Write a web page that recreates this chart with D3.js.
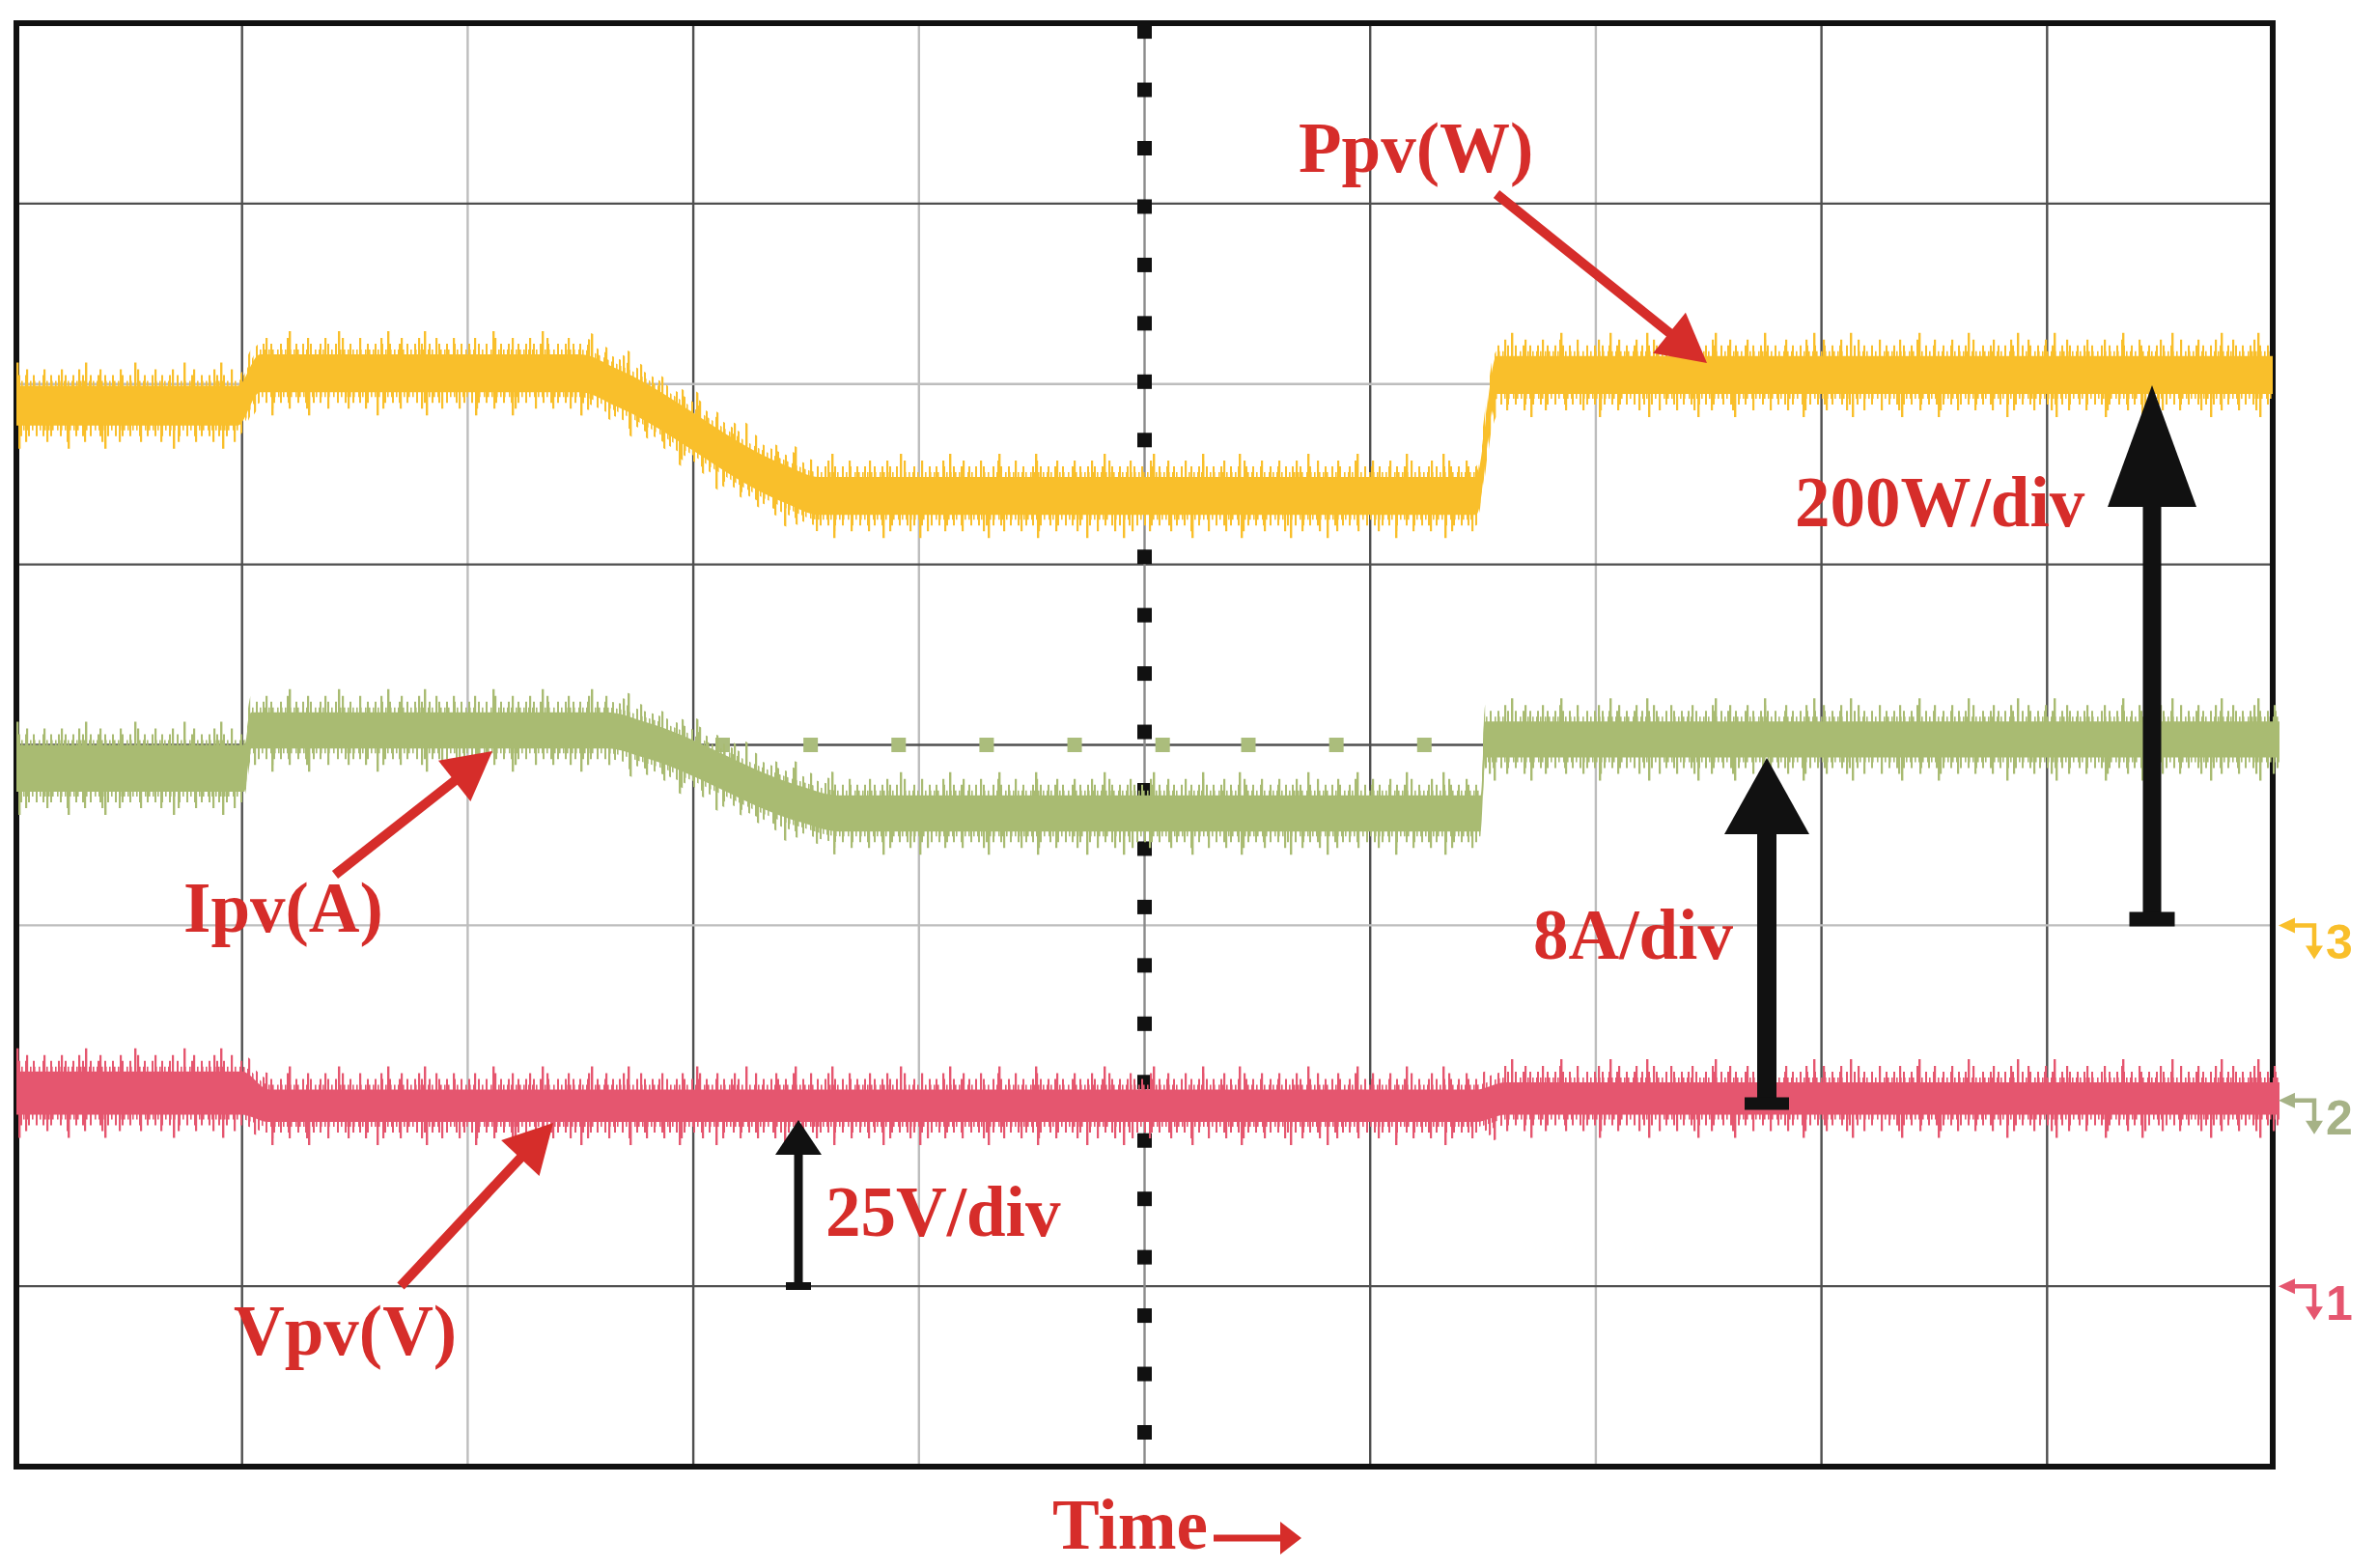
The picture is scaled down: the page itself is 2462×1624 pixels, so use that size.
<!DOCTYPE html>
<html>
<head>
<meta charset="utf-8">
<script src="https://cdn.jsdelivr.net/npm/d3@7"></script>
<style>
  html, body { margin: 0; padding: 0; background: #fff; }
  svg { display: block; }
</style>
</head>
<body>
<svg id="scope" width="2462" height="1624"></svg>
<script>
// Oscilloscope capture: Ppv / Ipv / Vpv vs time.
// Time is in screen divisions (10 across), level in divisions (8 up, 0 = bottom).

// Ppv (W), channel 3
const PPV_T = [0, 0.98, 1.08, 2.50, 2.66, 3.40, 3.56, 6.47, 6.56, 10];
const PPV_Y = [5.88, 5.88, 6.06, 6.06, 5.98, 5.45, 5.38, 5.38, 6.05, 6.05];
const PPV_N = [0.11, 0.11, 0.105, 0.105, 0.105, 0.105, 0.105, 0.105, 0.105, 0.105]; // noise envelope

// Ipv (A), channel 2
const IPV_T = [0, 1.01, 1.04, 2.62, 2.78, 3.48, 3.64, 6.49, 6.51, 10.03];
const IPV_Y = [3.87, 3.87, 4.08, 4.08, 4.03, 3.67, 3.62, 3.62, 4.03, 4.03];
const IPV_N = [0.13, 0.13, 0.10, 0.10, 0.10, 0.10, 0.10, 0.10, 0.10, 0.10];

// Vpv (V), channel 1
const VPV_T = [0, 1.00, 1.12, 6.47, 6.60, 10.03];
const VPV_Y = [2.07, 2.07, 2.00, 2.00, 2.04, 2.04];
const VPV_N = [0.12, 0.12, 0.09, 0.09, 0.09, 0.09];

// Ipv reference cursor (dotted) at 4 div
const REF_LEVEL = 4;
const REF_DOTS_T = [3.13, 3.52, 3.91, 4.30, 4.69, 5.08, 5.46, 5.85, 6.24];

const TRACE_LABELS = ['Ppv(W)', 'Ipv(A)', 'Vpv(V)'];
const SCALE_LABELS = ['200W/div', '8A/div', '25V/div'];
const CHANNELS = ['3', '2', '1'];
const CHANNEL_LEVELS = [3, 2.03, 1];
const TIME_LABEL = 'Time';

const W = 2462, H = 1624;
const RED = '#d62d2a';
const INK = '#111';
const COLORS = { ppv: '#f9bf2b', ipv: '#a9bb72', vpv: '#e5566f' };

const svg = d3.select('#scope');
const x = d3.scaleLinear().domain([0, 10]).range([17, 2354]);
const y = d3.scaleLinear().domain([0, 8]).range([1519, 24]);

svg.append('rect').attr('width', W).attr('height', H).attr('fill', '#fff');
const defs = svg.append('defs');

// ---- graticule ----
const DARK = '#4f4f4f', LIGHT = '#bdbdbd';
const V_LIGHT = new Set([2, 4, 7]);
const H_LIGHT = new Set([2, 3, 6]);
const grid = svg.append('g');
grid.selectAll('line.v')
  .data(d3.range(1, 10).filter(d => d !== 5))
  .join('line').attr('class', 'v')
  .attr('x1', d => x(d)).attr('x2', d => x(d))
  .attr('y1', y(8)).attr('y2', y(0))
  .attr('stroke', d => V_LIGHT.has(d) ? LIGHT : DARK)
  .attr('stroke-width', 2.4);
grid.selectAll('line.h')
  .data(d3.range(1, 8))
  .join('line').attr('class', 'h')
  .attr('x1', x(0)).attr('x2', x(10))
  .attr('y1', d => y(d)).attr('y2', d => y(d))
  .attr('stroke', d => H_LIGHT.has(d) ? LIGHT : DARK)
  .attr('stroke-width', 2.4);

// centre (trigger) line with square dots
grid.append('line')
  .attr('x1', x(5)).attr('x2', x(5)).attr('y1', y(8)).attr('y2', y(0))
  .attr('stroke', '#8a8a8a').attr('stroke-width', 2.4);
grid.selectAll('rect.cdot')
  .data(d3.range(25).map(i => 0.19 + i * 0.3235))
  .join('rect').attr('class', 'cdot')
  .attr('x', x(5) - 7.5).attr('y', d => y(d) - 7.5)
  .attr('width', 15).attr('height', 15).attr('fill', INK);

// Ipv reference cursor
grid.selectAll('rect.rdot')
  .data(REF_DOTS_T)
  .join('rect').attr('class', 'rdot')
  .attr('x', d => x(d) - 7.5).attr('y', y(REF_LEVEL) - 7.5)
  .attr('width', 15).attr('height', 15).attr('fill', '#abbd7c');

// frame
svg.append('rect')
  .attr('x', x(0)).attr('y', y(8))
  .attr('width', x(10) - x(0)).attr('height', y(0) - y(8))
  .attr('fill', 'none').attr('stroke', INK).attr('stroke-width', 6);

// ---- traces ----
// noisy fringe: stripe textures laid over bands just outside the trace core
const FRINGES = [
  { ext: 24, period: 211, stripes: [17, 88, 139, 190], w: 2.4 },
  { ext: 17, period: 97, stripes: [6, 27, 45, 63, 81], w: 2.2 },
  { ext: 11, period: 41, stripes: [3, 11, 19, 26, 34], w: 2 },
  { ext: 5, period: 13, stripes: [1, 5, 9], w: 1.6 }
];

const TRACES = [
  { key: 'vpv', t: VPV_T, v: VPV_Y, n: VPV_N },
  { key: 'ipv', t: IPV_T, v: IPV_Y, n: IPV_N },
  { key: 'ppv', t: PPV_T, v: PPV_Y, n: PPV_N }
];

TRACES.forEach(tr => {
  const color = COLORS[tr.key];
  FRINGES.forEach((f, i) => {
    ['up', 'dn'].forEach((side, s) => {
      const p = defs.append('pattern')
        .attr('id', `${tr.key}-${i}-${side}`)
        .attr('patternUnits', 'userSpaceOnUse')
        .attr('width', f.period).attr('height', H)
        .attr('patternTransform', `translate(${s ? Math.round(f.period * 0.43) : 0},0)`);
      p.selectAll('rect').data(f.stripes).join('rect')
        .attr('x', d => d).attr('y', 0)
        .attr('width', f.w).attr('height', H)
        .attr('fill', color);
    });
  });

  const pts = tr.t.map((t, i) => ({ t, v: tr.v[i], n: tr.n[i] }));
  const g = svg.append('g').attr('class', 'trace-' + tr.key);

  FRINGES.forEach((f, i) => {
    g.append('path').datum(pts)
      .attr('fill', `url(#${tr.key}-${i}-up)`)
      .attr('d', d3.area().curve(d3.curveMonotoneX)
        .x(d => x(d.t)).y0(d => y(d.v)).y1(d => y(d.v + d.n) - f.ext));
    g.append('path').datum(pts)
      .attr('fill', `url(#${tr.key}-${i}-dn)`)
      .attr('d', d3.area().curve(d3.curveMonotoneX)
        .x(d => x(d.t)).y0(d => y(d.v)).y1(d => y(d.v - d.n) + f.ext));
  });

  // solid core
  g.append('path').datum(pts)
    .attr('fill', color)
    .attr('d', d3.area().curve(d3.curveMonotoneX)
      .x(d => x(d.t)).y0(d => y(d.v - d.n)).y1(d => y(d.v + d.n)));
});

// ---- channel ground markers (right edge) ----
const CH_COLORS = [COLORS.ppv, '#a6b286', COLORS.vpv];
const marks = svg.append('g');
CHANNELS.forEach((ch, i) => {
  const yl = y(CHANNEL_LEVELS[i]);
  const c = CH_COLORS[i];
  const g = marks.append('g');
  g.append('path')
    .attr('d', `M2372,${yl}H2397V${yl + 22}`)
    .attr('fill', 'none').attr('stroke', c).attr('stroke-width', 4.5);
  g.append('polygon')
    .attr('points', [[2360, yl], [2377, yl - 8], [2377, yl + 8]].join(' '))
    .attr('fill', c);
  g.append('polygon')
    .attr('points', [[2397, yl + 35], [2388, yl + 21], [2406, yl + 21]].join(' '))
    .attr('fill', c);
  g.append('text')
    .attr('x', 2409).attr('y', yl + 35)
    .attr('font-family', '"Liberation Sans", Arial, sans-serif')
    .attr('font-weight', 'bold').attr('font-size', 50)
    .attr('fill', c)
    .text(ch);
});

// ---- annotations ----
const ann = svg.append('g');

function redArrow(x1, y1, x2, y2) {
  const len = Math.hypot(x2 - x1, y2 - y1);
  const ux = (x2 - x1) / len, uy = (y2 - y1) / len;
  const HL = 50, HW = 27;
  const bx = x2 - ux * HL, by = y2 - uy * HL;
  ann.append('line')
    .attr('x1', x1).attr('y1', y1).attr('x2', bx + ux * 4).attr('y2', by + uy * 4)
    .attr('stroke', RED).attr('stroke-width', 10);
  ann.append('polygon')
    .attr('points', [[x2, y2], [bx - uy * HW, by + ux * HW], [bx + uy * HW, by - ux * HW]].join(' '))
    .attr('fill', RED);
}

function blackArrow(cx, yBottom, yTip, shaftW, headW, headL, barW, barH) {
  ann.append('rect')
    .attr('x', cx - shaftW / 2).attr('y', yTip + headL - 2)
    .attr('width', shaftW).attr('height', yBottom - yTip - headL + 2)
    .attr('fill', INK);
  ann.append('polygon')
    .attr('points', [[cx, yTip], [cx - headW / 2, yTip + headL], [cx + headW / 2, yTip + headL]].join(' '))
    .attr('fill', INK);
  ann.append('rect')
    .attr('x', cx - barW / 2).attr('y', yBottom - barH / 2)
    .attr('width', barW).attr('height', barH)
    .attr('fill', INK);
}

function label(txt, lx, ly) {
  ann.append('text')
    .attr('x', lx).attr('y', ly)
    .attr('font-family', '"Liberation Serif", "Times New Roman", serif')
    .attr('font-weight', 'bold').attr('font-size', 73)
    .attr('fill', RED)
    .text(txt);
}

redArrow(1550, 201, 1768, 376);
redArrow(347, 906, 510, 778);
redArrow(415, 1332, 573, 1163);

blackArrow(827, 1332, 1160, 9, 48, 36, 26, 8);
blackArrow(1830, 1143, 785, 20, 88, 79, 46, 13);
blackArrow(2229, 952, 399, 19, 92, 126, 47, 15);

label(TRACE_LABELS[0], 1345, 178);
label(TRACE_LABELS[1], 190, 965);
label(TRACE_LABELS[2], 242, 1403);
label(SCALE_LABELS[0], 1859, 545);
label(SCALE_LABELS[1], 1588, 993);
label(SCALE_LABELS[2], 855, 1280);
label(TIME_LABEL, 1090, 1604);

// time arrow
ann.append('line')
  .attr('x1', 1257).attr('y1', 1593).attr('x2', 1330).attr('y2', 1593)
  .attr('stroke', RED).attr('stroke-width', 7);
ann.append('polygon')
  .attr('points', [[1348, 1593], [1326, 1576], [1326, 1610]].join(' '))
  .attr('fill', RED);
</script>
</body>
</html>
